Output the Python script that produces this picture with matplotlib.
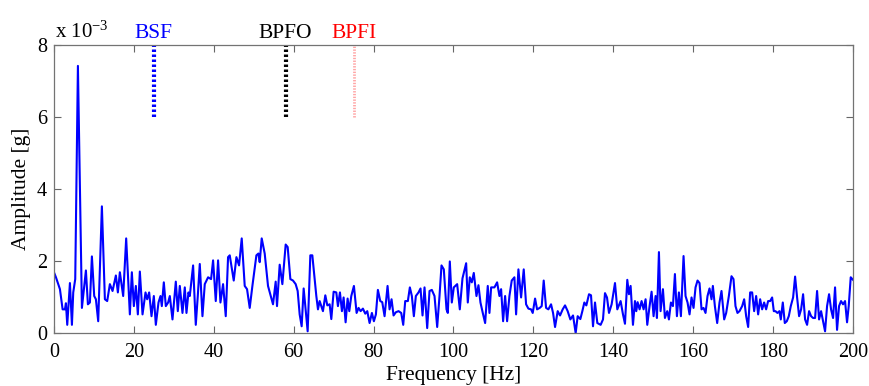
import numpy as np
import matplotlib
matplotlib.use("Agg")
import matplotlib.pyplot as plt

plt.rcParams['font.family'] = ['Liberation Serif', 'DejaVu Serif']
plt.rcParams['mathtext.default'] = 'regular'

# Envelope spectrum, amplitude in units of 1e-3 g
freq_a = [0.0, 0.5, 1.5, 2.17, 2.75, 3.0, 3.33, 4.0, 4.5, 4.83, 5.33, 6.0, 7.0, 8.0, 8.5,
          9.0, 9.5, 10.08, 10.5, 11.08, 12.0, 12.75, 13.33, 14.0, 14.67, 15.5, 16.0, 16.5,
          17.33, 18.08, 19.0, 19.5, 20.0, 20.5, 21.0, 21.5, 22.17, 22.92, 23.33, 23.83,
          24.42, 25.0, 25.5, 26.17, 26.67, 27.0, 27.5, 28.0, 28.58, 29.0, 29.67, 30.5,
          31.0, 31.5, 32.17, 32.75, 33.17, 33.67, 34.0, 34.83, 35.5, 36.0, 36.5, 37.17,
          37.75, 38.58, 39.33, 39.83, 40.5, 41.08, 41.67, 42.33, 43.0, 43.58, 44.0, 45.0,
          45.67, 46.33, 47.0, 47.75, 48.33, 49.0, 49.67, 50.67, 51.17, 51.5, 52.0, 52.75,
          53.58, 54.83, 55.5, 55.83, 56.5, 57.17, 58.0, 58.5, 59.17, 59.83, 60.5, 61.0,
          61.5, 62.0, 62.5, 63.5, 64.17, 64.67, 65.67]
amp_a = [1.69, 1.55, 1.22, 0.66, 0.66, 0.83, 0.23, 1.39, 0.23, 1.13, 1.5, 7.42, 0.70, 1.74, 0.8,
         0.85, 2.13, 1.03, 0.94, 0.33, 3.52, 0.94, 0.89, 1.36, 1.17, 1.6, 1.13, 1.69,
         1.03, 2.63, 0.52, 1.69, 0.75, 1.31, 0.52, 1.71, 0.52, 1.13, 0.94, 1.13,
         0.47, 1.03, 0.23, 0.85, 1.03, 0.75, 1.41, 0.75, 0.85, 1.03, 0.38, 1.43,
         0.61, 1.31, 0.56, 1.27, 0.56, 1.13, 1.03, 1.88, 0.23, 1.03, 1.92, 0.47,
         1.36, 1.55, 1.5, 2.02, 0.89, 2.02, 0.85, 1.36, 0.47, 2.11, 2.16, 1.46,
         2.11, 1.88, 2.63, 1.31, 1.22, 0.70, 1.31, 2.16, 2.21, 1.97, 2.63, 2.21,
         1.31, 0.8, 1.43, 0.75, 1.9, 1.36, 2.46, 2.39, 1.5, 1.46, 1.36, 1.17,
         0.52, 0.19, 1.24, 0.05, 2.16, 2.16, 1.03]

freq_b = [66.08, 66.5, 66.92, 67.33, 67.92, 68.42, 69.0, 69.42, 70.0, 70.67, 71.08, 71.58,
          72.08, 72.5, 73.0, 73.5, 73.92, 74.42, 75.08, 75.75, 76.25, 76.75, 77.33, 77.92,
          78.42, 79.0, 79.58, 80.08, 80.58, 81.08, 81.67, 82.17, 82.75, 83.5, 84.0, 84.5,
          85.0, 85.58, 86.25, 86.92, 87.42, 87.92, 88.58, 89.08, 89.58, 90.08, 90.58, 91.25,
          91.75, 92.25, 92.75, 93.42, 94.0, 94.58, 95.25, 95.92, 96.5, 97.0, 97.58, 98.25,
          98.58, 99.08, 99.58, 100.08, 100.92, 101.58, 102.25, 103.17, 103.58, 104.08,
          104.58, 105.08, 105.75, 106.25, 106.75, 107.33, 107.92, 108.58, 109.0, 109.42,
          110.25, 110.92, 111.5, 111.92, 112.42, 112.92, 113.42, 114.0, 114.58, 115.25,
          115.67, 116.25, 116.92, 117.58, 118.17, 118.75, 119.42, 119.83, 120.42, 120.92,
          121.58, 122.08, 122.58, 123.17, 123.75, 124.42, 124.92, 125.42, 126.08, 126.67,
          127.33, 127.92, 128.58, 129.25, 129.92, 130.58, 131.08, 131.75]
amp_b = [0.66, 0.89, 0.75, 0.61, 1.05, 0.77, 0.8, 0.39, 1.15, 1.13, 0.75, 1.13,
         0.61, 0.99, 0.3, 0.96, 0.61, 1.03, 1.31, 0.56, 0.70, 0.61, 0.68, 0.54,
         0.61, 0.28, 0.56, 0.33, 0.52, 1.2, 0.89, 0.86, 0.47, 1.31, 0.66, 0.94,
         0.49, 0.58, 0.61, 0.56, 0.23, 0.89, 0.89, 1.27, 1.03, 0.47, 1.03, 1.13,
         1.24, 0.49, 1.27, 0.14, 1.17, 1.2, 1.03, 0.17, 1.03, 1.88, 1.77, 0.66,
         0.56, 1.99, 0.85, 1.27, 1.36, 0.66, 1.52, 1.94, 0.85, 1.55,
         1.41, 1.67, 1.03, 1.33, 0.85, 0.56, 0.28, 1.31, 0.56, 1.27,
         1.27, 1.41, 1.03, 1.22, 0.33, 1.03, 0.33, 1.03, 1.46, 1.55,
         0.52, 1.77, 0.99, 1.77, 0.8, 0.68, 0.66, 0.56, 0.96, 0.66,
         0.70, 0.75, 1.46, 0.70, 0.66, 0.8, 0.56, 0.17, 0.61, 0.49,
         0.66, 0.77, 0.61, 0.38, 0.49, 0.0, 0.47, 0.39]

freq_c = [132.25, 132.75, 133.25, 133.92, 134.42, 134.92, 135.42, 136.0, 136.83, 137.42,
          137.92, 138.42, 138.92, 139.58, 140.42, 141.0, 141.83, 142.42, 142.92, 143.5,
          143.92, 144.33, 144.92, 145.42, 145.75, 146.08, 146.58, 147.08, 147.58, 148.08,
          148.5, 149.08, 149.58, 150.08, 150.58, 150.92, 151.42, 151.83, 152.42, 152.92,
          153.5, 153.92, 154.42, 154.92, 155.42, 155.92, 156.42, 156.92, 157.58, 158.08,
          158.58, 159.08, 159.58, 160.08, 160.58, 161.08, 161.58, 162.08, 162.58, 163.08,
          163.58, 164.08, 164.58, 164.92, 165.42, 166.0, 166.58, 167.08, 167.75, 168.25,
          168.92, 169.58, 170.08, 170.58, 171.08, 171.58, 172.25, 172.75, 173.25, 173.75,
          174.25, 174.75, 175.25, 175.75, 176.25, 176.75, 177.25, 177.75, 178.25, 178.75,
          179.25, 179.75, 180.17, 180.58, 181.08, 181.58, 181.92, 182.42, 182.92, 183.42,
          183.92, 184.42, 185.0, 185.5, 186.0, 186.5, 187.0, 187.5, 188.0, 188.5,
          189.0, 189.5, 190.0, 190.5, 191.0, 191.5, 192.0, 192.5, 193.0, 193.5,
          194.0, 194.5, 195.0, 195.5, 196.0, 196.5, 197.0, 197.5, 198.0, 198.5,
          198.92, 199.42, 200.0]
amp_c = [0.61, 0.85, 0.77, 1.08, 1.05, 0.19, 0.85, 0.28, 0.23, 0.38,
         1.11, 0.99, 0.56, 0.80, 1.39, 0.66, 0.89, 0.52, 0.26, 1.48,
         1.08, 1.31, 0.23, 0.89, 0.61, 0.86, 0.66, 0.89, 0.66, 0.94,
         0.23, 0.75, 1.15, 0.47, 1.03, 0.42, 2.25, 0.61, 1.22, 0.42,
         0.61, 0.38, 0.85, 0.75, 1.64, 0.47, 1.13, 0.47, 2.14, 1.03,
         0.85, 0.52, 0.99, 0.70, 1.27, 1.46, 1.39, 0.66, 0.70, 0.56,
         1.03, 1.24, 0.94, 1.31, 0.75, 0.28, 0.85, 1.17, 0.38, 0.56,
         1.03, 1.58, 1.50, 0.75, 0.56, 0.61, 0.75, 0.94, 0.47, 0.17,
         1.13, 1.13, 0.61, 1.03, 0.52, 0.94, 0.66, 0.85, 0.66, 0.89,
         0.89, 0.99, 0.61, 0.61, 0.56, 0.61, 0.38, 0.85, 0.28, 0.33,
         0.47, 0.75, 0.99, 1.57, 0.99, 0.47, 0.66, 1.08, 0.38, 0.23,
         0.61, 0.47, 0.42, 0.42, 1.17, 0.38, 0.61, 0.33, 0.05, 0.75,
         1.08, 0.66, 0.42, 1.27, 0.09, 0.75, 0.89, 0.80, 0.89, 0.30,
         0.75, 1.55, 1.48]

freq = np.array(freq_a + freq_b + freq_c)
amp = np.array(amp_a + amp_b + amp_c)

# fault frequencies
fault_names = ["BSF", "BPFO", "BPFI"]
fault_freqs = [25.0, 58.0, 75.0]
fault_colors = ["#0000ff", "black", "#ff8080"]

fig = plt.figure(figsize=(8.7, 3.86), dpi=100)
ax = fig.add_axes([0.062, 0.137, 0.9185, 0.7464])

ax.plot(freq, amp, color="#0000ff", linewidth=1.5)

for name, f, c in zip(fault_names, fault_freqs, fault_colors):
    if name == "BPFI":
        ax.plot([f, f], [6, 8], color=c, linewidth=2, linestyle=(0, (0.5, 0.5)), alpha=0.7)
    else:
        ax.plot([f, f], [6, 8], color=c, linewidth=3, linestyle=(0, (0.6, 0.6)))
    ax.text(f, 8.06, name, color=c if name != "BPFI" else "red", fontsize=15.5,
            ha="center", va="bottom")

ax.text(0.2, 8.06, r"x 10$^{-3}$", fontsize=15, ha="left", va="bottom")

ax.set_xlim(0, 200)
ax.set_ylim(0, 8)
ax.set_xticks(np.arange(0, 201, 20))
ax.set_yticks([0, 2, 4, 6, 8])
ax.tick_params(direction="in", top=True, right=True, length=5, width=0.8,
               color="0.4", labelsize=14.5)
ax.tick_params(axis="x", pad=7)
ax.tick_params(axis="y", pad=5)
for s in ax.spines.values():
    s.set_color("0.45")
    s.set_linewidth(0.9)
ax.set_xlabel("Frequency [Hz]", fontsize=15.5, labelpad=3)
ax.set_ylabel("Amplitude [g]", fontsize=15.5, labelpad=4)

fig.savefig("out.png", dpi=100)
